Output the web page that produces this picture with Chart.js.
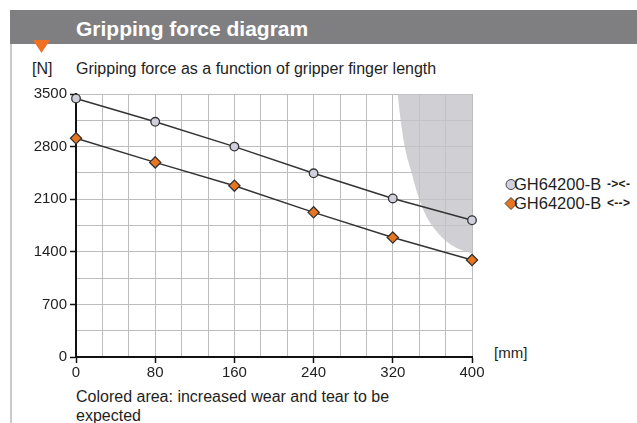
<!DOCTYPE html>
<html><head><meta charset="utf-8">
<script src="https://cdn.jsdelivr.net/npm/chart.js@4.4.0/dist/chart.umd.min.js"></script>
<style>
html,body{margin:0;padding:0;background:#fff;width:637px;height:423px;overflow:hidden;font-family:"Liberation Sans",Arial,sans-serif;color:#1e1e1e}
#wrap{position:relative;width:637px;height:423px}
#c{position:absolute;left:0;top:0}
.t{position:absolute;white-space:nowrap}
</style></head><body>
<div id="wrap">
<div style="position:absolute;left:10px;top:10px;width:627px;height:34px;background:#7f7f82"></div>
<div style="position:absolute;left:10px;top:44px;width:2px;height:379px;background:#cacaca"></div>
<svg style="position:absolute;left:0;top:0" width="637" height="60"><polygon points="33,40 50,40 41.5,53" fill="#f07023"/></svg>
<div class="t" style="left:76px;top:18px;font-size:21px;line-height:21px;font-weight:bold;color:#fff">Gripping force diagram</div>
<div class="t" style="left:32px;top:60.5px;font-size:16px;line-height:16px">[N]</div>
<div class="t" style="left:76px;top:60.5px;font-size:16px;line-height:16px">Gripping force as a function of gripper finger length</div>
<div class="t" style="left:494px;top:344.5px;font-size:15px;line-height:15px">[mm]</div>
<div class="t" style="left:76px;top:387px;font-size:16px;line-height:19.3px">Colored area: increased wear and tear to be<br>expected</div>
<svg style="position:absolute;left:503px;top:177px" width="16" height="16"><circle cx="8" cy="7.5" r="5" fill="#cfd0dc" stroke="#444" stroke-width="1"/></svg>
<div class="t" style="left:514px;top:176px;font-size:16.5px;line-height:16px">GH64200-B</div>
<div class="t" style="left:607px;top:178px;font-size:12px;line-height:12px;font-weight:bold;letter-spacing:0.3px">-&gt;&lt;-</div>
<svg style="position:absolute;left:503px;top:196px" width="16" height="16"><polygon points="8,1.5 14,7.5 8,13.5 2,7.5" fill="#e8761f" stroke="#444" stroke-width="1"/></svg>
<div class="t" style="left:514px;top:195.3px;font-size:16.5px;line-height:16px">GH64200-B</div>
<div class="t" style="left:607px;top:197.3px;font-size:12px;line-height:12px;font-weight:bold;letter-spacing:0.3px">&lt;--&gt;</div>
<canvas id="c" width="637" height="423"></canvas>
</div>
<script>
// Tick labels
const xLabels = [0, 80, 160, 240, 320, 400];
const yLabels = [0, 700, 1400, 2100, 2800, 3500];
// Series: gripper finger length [mm] vs gripping force [N]
const lengthMM = [0, 80, 160, 240, 320, 400];
const forceClosing = [3440, 3130, 2800, 2445, 2110, 1820];
const forceOpening = [2910, 2590, 2280, 1925, 1590, 1290];
// Boundary of coloured area (increased wear)
const wearX = [325, 327, 332, 339, 346, 354, 363, 374, 386, 400];
const wearY = [3500, 3250, 2800, 2450, 2130, 1870, 1690, 1540, 1440, 1380];

function subdivide(arr, n) {
  const out = [];
  for (let i = 0; i < arr.length - 1; i++) {
    for (let k = 0; k < n; k++) out.push(arr[i] + (arr[i + 1] - arr[i]) * k / n);
  }
  out.push(arr[arr.length - 1]);
  return out;
}
const xGrid = subdivide(xLabels, 3);
const yGrid = subdivide(yLabels, 2);
const isLabel = (labels, v) => labels.some(l => Math.abs(l - v) < 1e-6);

const pts = (xs, ys) => xs.map((x, i) => ({ x: x, y: ys[i] }));

new Chart(document.getElementById('c'), {
  type: 'line',
  data: {
    datasets: [
      {
        data: pts(lengthMM, forceClosing),
        borderColor: '#333', borderWidth: 1.5,
        pointStyle: 'circle', pointRadius: 4.3,
        pointBackgroundColor: '#cfd0dc', pointBorderColor: '#333', pointBorderWidth: 1.3,
        clip: false, order: 1
      },
      {
        data: pts(lengthMM, forceOpening),
        borderColor: '#333', borderWidth: 1.5,
        pointStyle: 'rectRot', pointRadius: 5.6,
        pointBackgroundColor: '#e8761f', pointBorderColor: '#333', pointBorderWidth: 1.3,
        clip: false, order: 2
      },
      {
        data: pts(wearX, wearY),
        borderWidth: 0, borderColor: 'rgba(0,0,0,0)', pointRadius: 0,
        backgroundColor: 'rgba(196,196,201,0.8)',
        fill: 'end', cubicInterpolationMode: 'monotone', order: 9
      }
    ]
  },
  options: {
    responsive: false, animation: false, devicePixelRatio: 1,
    layout: { padding: { left: 0, top: 94, right: 165, bottom: 0 } },
    plugins: { legend: { display: false }, tooltip: { enabled: false } },
    scales: {
      x: {
        type: 'linear', min: 0, max: 400,
        afterBuildTicks: s => { s.ticks = xGrid.map(v => ({ value: v })); },
        afterFit: s => { s.height = 66; },
        ticks: {
          autoSkip: false, maxRotation: 0, padding: 1,
          font: { family: '"Liberation Sans", Arial, sans-serif', size: 15 }, color: '#1e1e1e',
          callback: v => isLabel(xLabels, v) ? String(Math.round(v)) : ''
        },
        grid: {
          color: '#bdbdbd', lineWidth: 1, tickLength: 6, tickWidth: 1.5,
          tickColor: ctx => (ctx.tick && isLabel(xLabels, ctx.tick.value)) ? '#111' : 'rgba(0,0,0,0)'
        },
        border: { color: '#111', width: 2 }
      },
      y: {
        type: 'linear', min: 0, max: 3500,
        afterBuildTicks: s => { s.ticks = yGrid.map(v => ({ value: v })); },
        afterFit: s => { s.width = 76; },
        ticks: {
          autoSkip: false, padding: 3,
          font: { family: '"Liberation Sans", Arial, sans-serif', size: 15 }, color: '#1e1e1e',
          callback: v => isLabel(yLabels, v) ? String(Math.round(v)) : ''
        },
        grid: {
          color: '#bdbdbd', lineWidth: 1, tickLength: 6, tickWidth: 1.5,
          tickColor: ctx => (ctx.tick && isLabel(yLabels, ctx.tick.value)) ? '#111' : 'rgba(0,0,0,0)'
        },
        border: { color: '#111', width: 2 }
      }
    }
  }
});
</script>
</body></html>
